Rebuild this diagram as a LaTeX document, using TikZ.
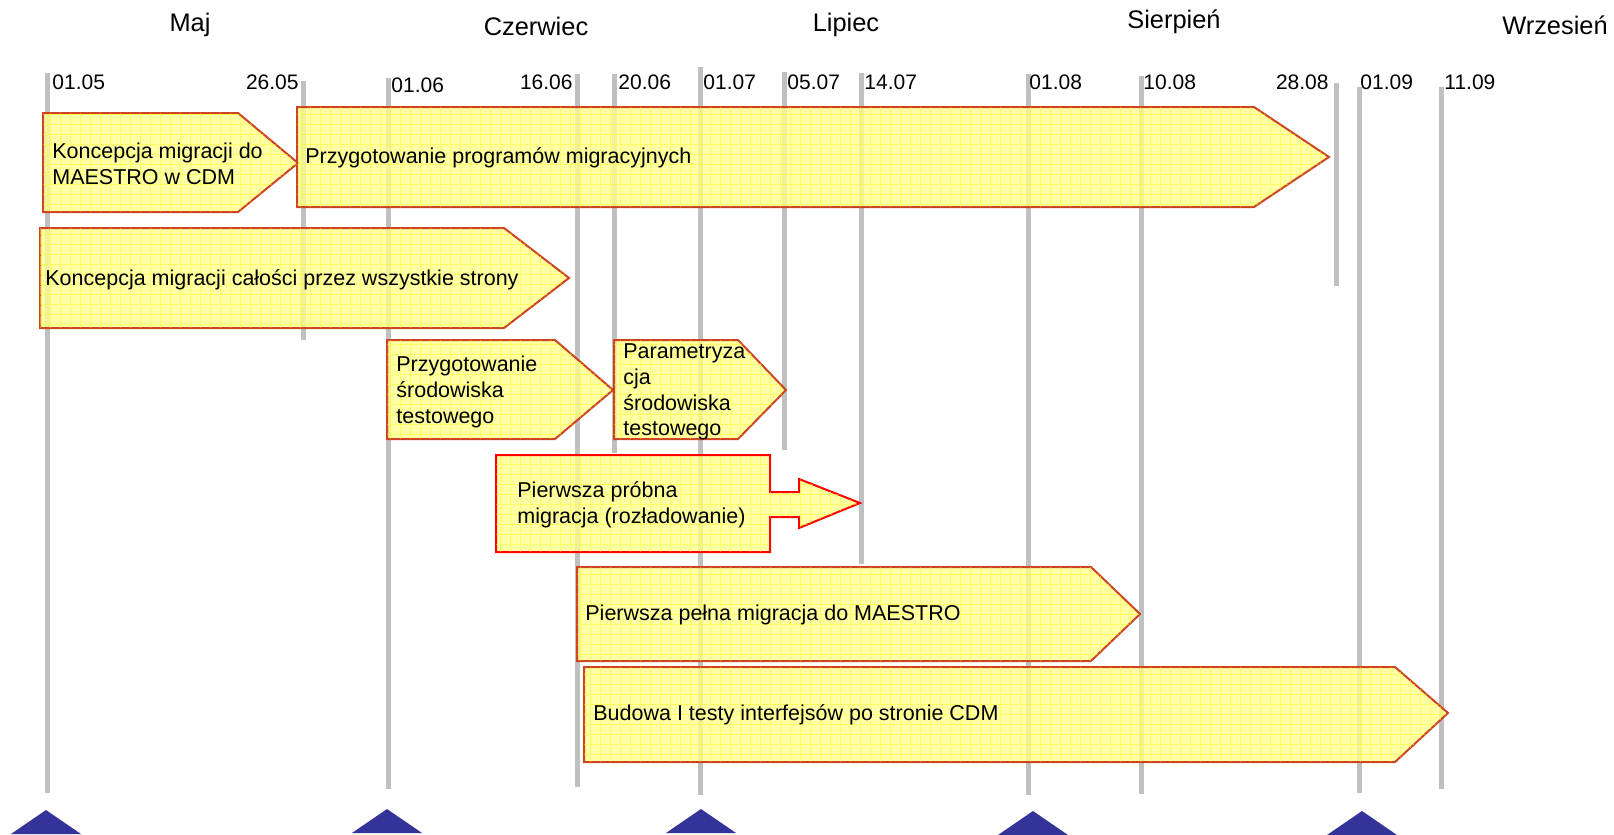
\documentclass[tikz,border=0pt]{standalone}
\usepackage{fontspec}
\setmainfont{Liberation Sans}
\usetikzlibrary{patterns}

% fine yellow grid drawn over the task arrows
\pgfdeclarepatternformonly{taskgrid}{\pgfpointorigin}{\pgfpoint{5pt}{5pt}}{\pgfpoint{5pt}{5pt}}{
  \pgfsetlinewidth{0.5pt}
  \pgfpathmoveto{\pgfpoint{0pt}{0.25pt}}\pgfpathlineto{\pgfpoint{5pt}{0.25pt}}
  \pgfpathmoveto{\pgfpoint{0.25pt}{0pt}}\pgfpathlineto{\pgfpoint{0.25pt}{5pt}}
  \pgfusepath{stroke}}

\definecolor{taskfill}{RGB}{255,255,140}
\definecolor{taskline}{RGB}{204,68,34}
\definecolor{marker}{RGB}{51,51,153}
\definecolor{dayline}{RGB}{192,192,192}

\tikzset{
  month/.style={font=\fontsize{12.7}{15}\selectfont, inner sep=0pt},
  dayright/.style={font=\fontsize{10.5}{12.6}\selectfont, anchor=west, inner sep=0pt},
  dayleft/.style={font=\fontsize{10.5}{12.6}\selectfont, anchor=east, inner sep=0pt},
  day/.style={draw=dayline, line width=2.5pt},
  task/.style={draw=taskline, line width=1pt, fill=taskfill, fill opacity=0.78,
    postaction={pattern=taskgrid, pattern color=yellow, fill opacity=0.45}},
  tasktext/.style={font=\fontsize{10.75}{12.9}\selectfont, anchor=west, align=left, inner sep=0pt},
}

\begin{document}
\begin{tikzpicture}[x=0.5pt,y=-0.5pt]

  \useasboundingbox (0,0) rectangle (1614,835);
  \clip (0,0) rectangle (1614,835);

  % months
  \node[month] (maj) at (190,25) {Maj};
  \node[month] (czerwiec) at (536,26) {Czerwiec};
  \node[month] (lipiec) at (846,25) {Lipiec};
  \node[month] (sierpien) at (1174,22) {Sierpień};
  \node[month] (wrzesien) at (1555,25) {Wrzesień};

  % day lines
  \draw[day] (47,73) -- (47,793);
  \draw[day] (303,81) -- (303,340);
  \draw[day] (388,78) -- (388,789);
  \draw[day] (577,74) -- (577,787);
  \draw[day] (614,74) -- (614,453);
  \draw[day] (700,67) -- (700,795);
  \draw[day] (784,72) -- (784,450);
  \draw[day] (861,73) -- (861,564);
  \draw[day] (1028,74) -- (1028,795);
  \draw[day] (1141,76) -- (1141,794);
  \draw[day] (1336,83) -- (1336,286);
  \draw[day] (1359,87) -- (1359,793);
  \draw[day] (1441,87) -- (1441,789);

  % day labels
  \node[dayright] (d0105) at (52,82) {01.05};
  \node[dayleft]  (d2605) at (299,82) {26.05};
  \node[dayright] (d0106) at (391,85) {01.06};
  \node[dayleft]  (d1606) at (573,82) {16.06};
  \node[dayright] (d2006) at (618,82) {20.06};
  \node[dayright] (d0107) at (703,82) {01.07};
  \node[dayright] (d0507) at (787,82) {05.07};
  \node[dayright] (d1407) at (864,82) {14.07};
  \node[dayright] (d0108) at (1029,82) {01.08};
  \node[dayright] (d1008) at (1143,82) {10.08};
  \node[dayleft]  (d2808) at (1329,82) {28.08};
  \node[dayright] (d0109) at (1360,82) {01.09};
  \node[dayright] (d1109) at (1444,82) {11.09};

  % task arrows
  \draw[task] (43,113) -- (238,113) -- (298,163) -- (238,212) -- (43,212) -- cycle;
  \node[tasktext] (koncepcja) at (52,164) {Koncepcja migracji do\\MAESTRO w CDM};

  \draw[task] (297,107) -- (1254,107) -- (1329,157) -- (1254,207) -- (297,207) -- cycle;
  \node[tasktext] (programy) at (305,158) {Przygotowanie programów migracyjnych};

  \draw[task] (40,228) -- (504,228) -- (569,278) -- (504,328) -- (40,328) -- cycle;
  \node[tasktext] (calosc) at (45,280) {Koncepcja migracji całości przez wszystkie strony};

  \draw[task] (387,340) -- (555,340) -- (613,390) -- (555,439) -- (387,439) -- cycle;
  \node[tasktext] (srodowisko) at (396,392) {Przygotowanie\\środowiska\\testowego};

  \draw[task] (614,340) -- (738,340) -- (786,390) -- (738,439) -- (614,439) -- cycle;
  \node[tasktext] (parametryzacja) at (623,392) {Parametryza\\cja\\środowiska\\testowego};

  \draw[task, draw=red] (496,455) -- (770,455) -- (770,492) -- (799,492) -- (799,479)
    -- (860,503) -- (799,528) -- (799,517) -- (770,517) -- (770,552) -- (496,552) -- cycle;
  \node[tasktext] (probna) at (517,505) {Pierwsza próbna\\migracja (rozładowanie)};

  \draw[task] (577,567) -- (1091,567) -- (1140,614) -- (1091,661) -- (577,661) -- cycle;
  \node[tasktext] (pelna) at (585,615) {Pierwsza pełna migracja do MAESTRO};

  \draw[task] (584,667) -- (1395,667) -- (1448,713) -- (1395,762) -- (584,762) -- cycle;
  \node[tasktext] (interfejsy) at (593,715) {Budowa I testy interfejsów po stronie CDM};

  % milestone markers
  \fill[marker] (46,810) -- (81,834) -- (11,834) -- cycle;
  \fill[marker] (387,809) -- (422,833) -- (352,833) -- cycle;
  \fill[marker] (701,809) -- (736,833) -- (666,833) -- cycle;
  \fill[marker] (1033,811) -- (1068,835) -- (998,835) -- cycle;
  \fill[marker] (1362,811) -- (1397,835) -- (1327,835) -- cycle;

\end{tikzpicture}
\end{document}
